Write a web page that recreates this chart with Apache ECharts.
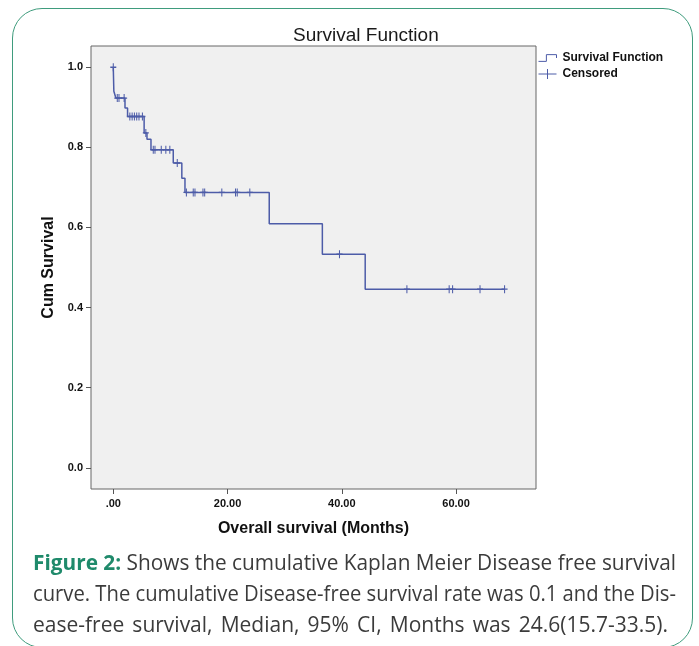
<!DOCTYPE html>
<html><head><meta charset="utf-8">
<script src="https://cdn.jsdelivr.net/npm/echarts@6/dist/echarts.min.js"></script>
<style>
html,body{margin:0;padding:0;background:#fff;width:699px;height:646px;overflow:hidden;}
#frame{position:absolute;left:12px;top:8px;width:681px;height:640px;border:1.5px solid #3f9c7d;border-radius:30px;box-sizing:border-box;}
#chart{position:absolute;left:0;top:0;width:699px;height:646px;}
.cap{position:absolute;left:33px;font-family:'Open Sans','Noto Sans',sans-serif;font-size:21px;color:#3b3b3b;white-space:nowrap;line-height:24px;text-align:justify;text-align-last:justify;transform-origin:0 0;}
.cap b{color:#1f8a6b;}
</style></head>
<body>
<div id="frame"></div>
<div id="chart"></div>
<div id="caption"></div>
<script>
// ---- data ----
const eventTimes = [0, 0.1, 0.45, 2.05, 2.5, 5.4, 5.9, 6.6, 10.5, 12.0, 12.55, 27.3, 36.6, 44.1, 68.5];
const survival   = [1.0, 0.94, 0.923, 0.898, 0.877, 0.836, 0.82, 0.794, 0.761, 0.723, 0.6875, 0.609, 0.533, 0.446, 0.446];
const censorTimes = [0, 0.7, 1.0, 1.9, 2.9, 3.3, 3.7, 4.1, 4.5, 5.1, 5.7, 7.0, 7.3, 8.4, 9.2, 9.9, 11.2,
  12.8, 14.0, 14.3, 15.7, 16.0, 19.0, 21.4, 21.7, 23.9, 39.6, 51.4, 58.8, 59.4, 64.2, 68.5];
const censorSurv = [1.0, 0.923, 0.923, 0.923, 0.877, 0.877, 0.877, 0.877, 0.877, 0.877, 0.836, 0.794, 0.794, 0.794, 0.794, 0.794, 0.761,
  0.6875, 0.6875, 0.6875, 0.6875, 0.6875, 0.6875, 0.6875, 0.6875, 0.6875, 0.533, 0.446, 0.446, 0.446, 0.446, 0.446];
const xTickValues = [0, 20, 40, 60];
const xTickLabels = ['.00', '20.00', '40.00', '60.00'];
const yTickValues = [0, 0.2, 0.4, 0.6, 0.8, 1.0];
const yTickLabels = ['0.0', '0.2', '0.4', '0.6', '0.8', '1.0'];
const titleText = 'Survival Function';
const xName = 'Overall survival (Months)';
const yName = 'Cum Survival';
const legendNames = ['Survival Function', 'Censored'];
const captionLead = 'Figure 2:';
const captionLines = [
  ' Shows the cumulative Kaplan Meier Disease free survival',
  'curve. The cumulative Disease-free survival rate was 0.1 and the Dis-',
  'ease-free survival, Median, 95% CI, Months was 24.6(15.7-33.5).'
];

// ---- chart ----
const FONT = 'Liberation Sans, Arial, sans-serif';
const LINE = '#4d5ca8';
const chart = echarts.init(document.getElementById('chart'), null, {renderer: 'canvas'});
const fmt = (vals, labels) => v => { const i = vals.findIndex(x => Math.abs(x - v) < 1e-9); return i >= 0 ? labels[i] : ''; };
chart.setOption({
  animation: false,
  title: {text: titleText, left: 288, top: 21,
    textStyle: {fontFamily: FONT, fontSize: 19, fontWeight: 'normal', color: '#1a1a1a'}},
  legend: {
    orient: 'vertical', left: 538, top: 47, padding: [5, 5, 5, 0], itemWidth: 18, itemHeight: 10, itemGap: 4,
    textStyle: {fontFamily: FONT, fontWeight: 'bold', fontSize: 12, color: '#111', padding: [0, 0, 0, 1]},
    data: [
      {name: legendNames[0], icon: 'path://M0,6L7,6L7,0L16,0L16,3', itemStyle: {color: 'transparent', borderColor: LINE, borderWidth: 1}},
      {name: legendNames[1], icon: 'path://M0,5L18,5M9,0L9,10', itemStyle: {color: 'transparent', borderColor: LINE, borderWidth: 1}}
    ]
  },
  grid: {left: 91, top: 46, right: 163, bottom: 157, show: true, backgroundColor: '#f0f0f0', borderColor: '#666', borderWidth: 1},
  xAxis: {
    type: 'value', min: -3.9, max: 74,
    name: xName, nameLocation: 'middle', nameGap: 32,
    nameTextStyle: {fontFamily: FONT, fontWeight: 'bold', fontSize: 16, color: '#111'},
    splitLine: {show: false}, axisLine: {show: false, onZero: false},
    axisTick: {show: true, length: 5, customValues: xTickValues, lineStyle: {color: '#555'}},
    axisLabel: {customValues: xTickValues, formatter: fmt(xTickValues, xTickLabels), margin: 9,
      fontFamily: FONT, fontWeight: 'bold', fontSize: 11, color: '#111'}
  },
  yAxis: {
    type: 'value', min: -0.053, max: 1.053,
    name: yName, nameLocation: 'middle', nameGap: 34,
    nameTextStyle: {fontFamily: FONT, fontWeight: 'bold', fontSize: 16, color: '#111'},
    splitLine: {show: false}, axisLine: {show: false, onZero: false},
    axisTick: {show: true, length: 5, customValues: yTickValues, lineStyle: {color: '#555'}},
    axisLabel: {customValues: yTickValues, formatter: fmt(yTickValues, yTickLabels), margin: 8,
      fontFamily: FONT, fontWeight: 'bold', fontSize: 11, color: '#111'}
  },
  series: [
    {name: legendNames[0], type: 'line', step: 'end', symbol: 'none', showSymbol: false,
      data: eventTimes.map((t, i) => [t, survival[i]]),
      lineStyle: {color: LINE, width: 1.5}, itemStyle: {color: LINE}, z: 2},
    {name: legendNames[1], type: 'scatter', symbol: 'path://M0,0L0,10M-3,5L3,5', symbolSize: [6, 8],
      data: censorTimes.map((t, i) => [t, censorSurv[i]]),
      itemStyle: {color: 'transparent', borderColor: LINE, borderWidth: 1.2, opacity: 1}, z: 3}
  ]
});

// ---- caption ----
const cap = document.getElementById('caption');
const tops = [550, 581, 612];
const widths = [643, 643, 635];
captionLines.forEach((txt, i) => {
  const d = document.createElement('div');
  d.className = 'cap';
  d.style.top = tops[i] + 'px';
  if (i === 0) { const b = document.createElement('b'); b.textContent = captionLead; d.appendChild(b); }
  d.appendChild(document.createTextNode(txt));
  cap.appendChild(d);
  const natural = d.getBoundingClientRect().width;
  if (natural > widths[i]) {
    d.style.transform = 'scaleX(' + (widths[i] / natural) + ')';
  } else {
    d.style.width = widths[i] + 'px';
  }
});
</script>
</body></html>
